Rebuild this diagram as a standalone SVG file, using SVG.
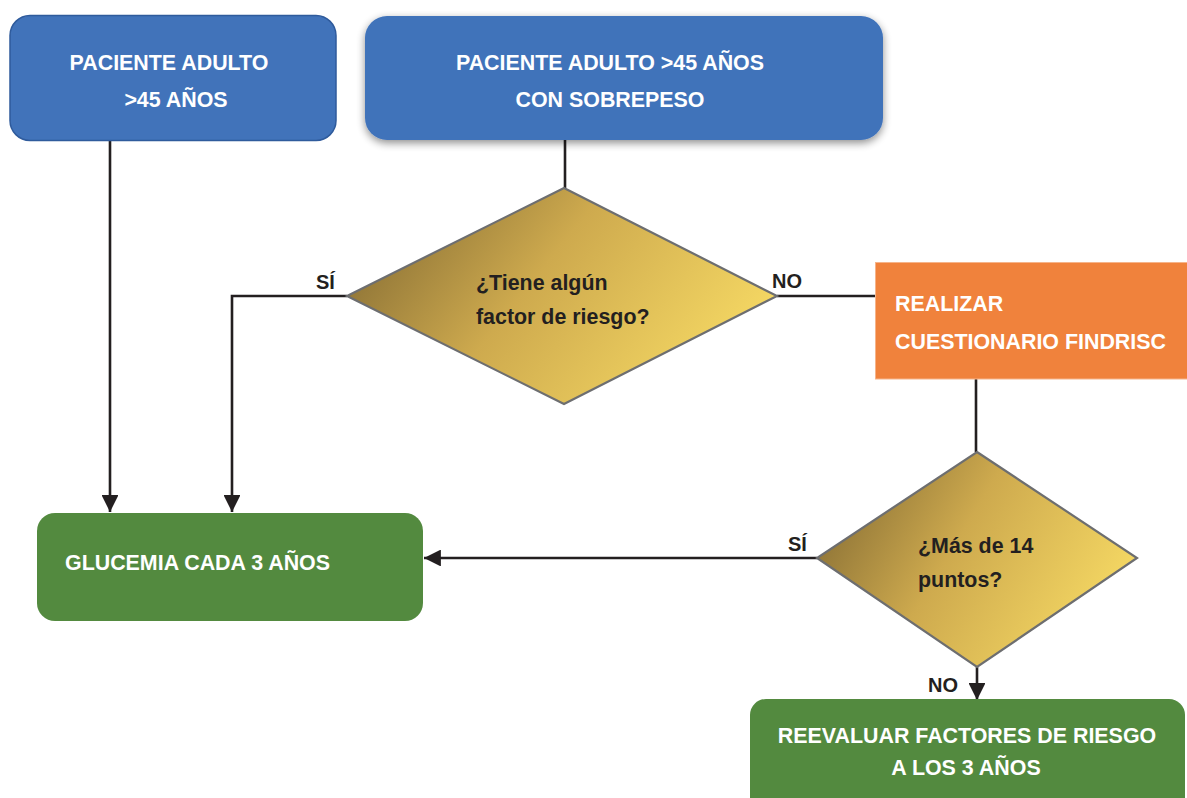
<svg xmlns="http://www.w3.org/2000/svg" width="1187" height="798" viewBox="0 0 1187 798">
  <defs>
    <linearGradient id="gold" x1="0" y1="0.35" x2="1" y2="0.75">
      <stop offset="0" stop-color="#8c7236"/>
      <stop offset="0.4" stop-color="#ceaa4e"/>
      <stop offset="1" stop-color="#fade66"/>
    </linearGradient>
    <filter id="shadow" x="-10%" y="-20%" width="120%" height="150%">
      <feGaussianBlur in="SourceAlpha" stdDeviation="4"/>
      <feOffset dx="0" dy="3" result="b"/>
      <feComponentTransfer><feFuncA type="linear" slope="0.45"/></feComponentTransfer>
      <feMerge><feMergeNode/><feMergeNode in="SourceGraphic"/></feMerge>
    </filter>
    <marker id="arrow" viewBox="0 0 10 10" refX="10" refY="5" markerWidth="6.5" markerHeight="6.5" markerUnits="strokeWidth" orient="auto">
      <path d="M0,0 L10,5 L0,10 Z" fill="#231f20"/>
    </marker>
  </defs>
  <style>
    text { font-family: "Liberation Sans", Arial, sans-serif; font-weight: bold; font-size: 21.4px; }
    .w { fill: #ffffff; }
    .d { fill: #231f20; }
    .lbl { font-size: 20px; }
    .blue { fill: #4173ba; }
    .green { fill: #538a3f; }
    .diamond { fill: url(#gold); stroke: #6d6e70; stroke-width: 2.2; }
    .edge { fill: none; stroke: #231f20; stroke-width: 2.6; }
  </style>
  <rect width="1187" height="798" fill="#ffffff"/>

  <!-- connectors -->
  <g id="connectors">
    <line class="edge" x1="110" y1="141" x2="110" y2="512" marker-end="url(#arrow)"/>
    <line class="edge" x1="565" y1="140" x2="565" y2="188"/>
    <polyline class="edge" points="347,296 232,296 232,512" marker-end="url(#arrow)"/>
    <line class="edge" x1="777" y1="296" x2="876" y2="296"/>
    <line class="edge" x1="976" y1="379" x2="976" y2="452"/>
    <line class="edge" x1="817" y1="558" x2="424" y2="558" marker-end="url(#arrow)"/>
    <line class="edge" x1="977" y1="667" x2="977" y2="700" marker-end="url(#arrow)"/>
    <text class="d lbl" x="316" y="289">SÍ</text>
    <text class="d lbl" x="772" y="288">NO</text>
    <text class="d lbl" x="788" y="551">SÍ</text>
    <text class="d lbl" x="928" y="692">NO</text>
  </g>

  <!-- start: adult patient -->
  <g id="n-adulto">
    <rect class="blue" x="10" y="15.5" width="326" height="125" rx="20" stroke="#2f5b9c" stroke-width="1.5"/>
    <text class="w" x="169" y="70" text-anchor="middle">PACIENTE ADULTO</text>
    <text class="w" x="176" y="107" text-anchor="middle">&gt;45 AÑOS</text>
  </g>

  <!-- start: overweight adult patient -->
  <g id="n-sobrepeso">
    <rect class="blue" x="365" y="16" width="518" height="124" rx="22" filter="url(#shadow)"/>
    <text class="w" x="610" y="70" text-anchor="middle">PACIENTE ADULTO &gt;45 AÑOS</text>
    <text class="w" x="610" y="107" text-anchor="middle">CON SOBREPESO</text>
  </g>

  <!-- decision: risk factor -->
  <g id="n-factor">
    <polygon class="diamond" points="564,188 777,296 564,404 347,296"/>
    <text class="d" x="476" y="290">¿Tiene algún</text>
    <text class="d" x="476" y="324">factor de riesgo?</text>
  </g>

  <!-- FINDRISC questionnaire -->
  <g id="n-findrisc">
    <rect x="875.5" y="262.5" width="320" height="116.5" fill="#f0823c" stroke="#f6b48a" stroke-width="1"/>
    <text class="w" x="895" y="311">REALIZAR</text>
    <text class="w" x="895" y="349">CUESTIONARIO FINDRISC</text>
  </g>

  <!-- decision: score -->
  <g id="n-puntos">
    <polygon class="diamond" points="977,452 1137,558 977,667 817,558"/>
    <text class="d" x="918" y="553">¿Más de 14</text>
    <text class="d" x="918" y="587">puntos?</text>
  </g>

  <!-- glucose every 3 years -->
  <g id="n-glucemia">
    <rect class="green" x="37" y="513" width="386" height="108" rx="18"/>
    <text class="w" x="65" y="570">GLUCEMIA CADA 3 AÑOS</text>
  </g>

  <!-- re-evaluate risk factors -->
  <g id="n-reevaluar">
    <rect class="green" x="750" y="699" width="435" height="130" rx="16"/>
    <text class="w" x="967" y="743" text-anchor="middle">REEVALUAR FACTORES DE RIESGO</text>
    <text class="w" x="966" y="775" text-anchor="middle">A LOS 3 AÑOS</text>
  </g>
</svg>
